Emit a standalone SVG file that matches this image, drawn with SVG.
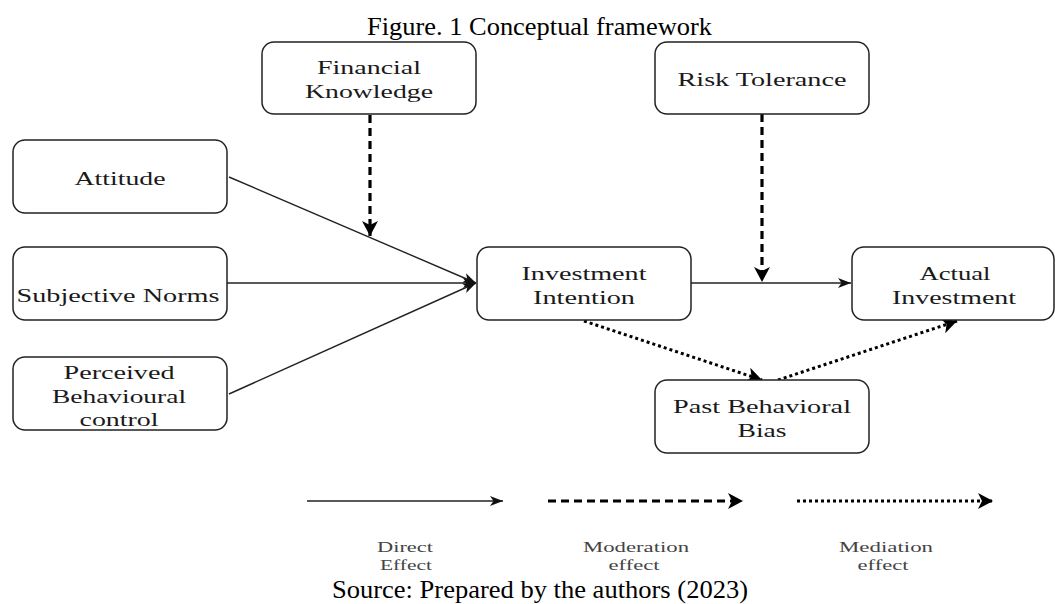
<svg xmlns="http://www.w3.org/2000/svg" width="1055" height="604" viewBox="0 0 1055 604">
<style>
.box{fill:#fff;stroke:#222;stroke-width:1.5}
.nt{font-family:"Liberation Serif","Times New Roman",serif;font-size:19px;fill:#1a1a1a;text-anchor:middle}
.lt{font-family:"Liberation Serif","Times New Roman",serif;font-size:15px;fill:#444;text-anchor:middle}
.cap{font-family:"Liberation Serif","Times New Roman",serif;font-size:26px;fill:#000}
.solid{fill:none;stroke:#222;stroke-width:1.4}
.dash{fill:none;stroke:#000;stroke-width:3.2;stroke-dasharray:8 5}
.dot{fill:none;stroke:#000;stroke-width:3;stroke-dasharray:3 3}
</style>
<defs>
<marker id="thin" markerUnits="userSpaceOnUse" markerWidth="14" markerHeight="12" refX="13" refY="5" orient="auto" overflow="visible">
<path d="M0,0 L13,5 L0,10 L3.5,5 Z" fill="#111"/>
</marker>
<marker id="big" markerUnits="userSpaceOnUse" markerWidth="18" markerHeight="18" refX="15" refY="8" orient="auto" overflow="visible">
<path d="M0,0 L15,8 L0,16 L4,8 Z" fill="#000"/>
</marker>
</defs>
<text class="cap" x="367" y="35" textLength="345" lengthAdjust="spacingAndGlyphs">Figure. 1 Conceptual framework</text>

<g id="connectors">
<line class="solid" x1="229" y1="177" x2="476" y2="283" marker-end="url(#thin)"/>
<line class="solid" x1="227" y1="283" x2="476" y2="283" marker-end="url(#thin)"/>
<line class="solid" x1="229" y1="394" x2="476" y2="283" marker-end="url(#thin)"/>
<line class="dash" x1="370" y1="115" x2="370" y2="236" marker-end="url(#big)"/>
<line class="solid" x1="691" y1="283" x2="851" y2="283" marker-end="url(#thin)"/>
<line class="dash" x1="762" y1="114" x2="762" y2="282" marker-end="url(#big)"/>
<line class="dot" x1="584" y1="321" x2="762" y2="380" marker-end="url(#big)"/>
<line class="dot" x1="778" y1="380" x2="957" y2="321" marker-end="url(#big)"/>
</g>

<g id="financial-knowledge">
<rect class="box" x="262" y="42" width="214" height="72" rx="12"/>
<text class="nt" x="369" y="74" textLength="104" lengthAdjust="spacingAndGlyphs">Financial</text>
<text class="nt" x="369" y="98" textLength="128" lengthAdjust="spacingAndGlyphs">Knowledge</text>
</g>
<g id="risk-tolerance">
<rect class="box" x="655" y="42" width="214" height="72" rx="12"/>
<text class="nt" x="762" y="86" textLength="169" lengthAdjust="spacingAndGlyphs">Risk Tolerance</text>
</g>
<g id="attitude">
<rect class="box" x="13" y="140" width="214" height="73" rx="12"/>
<text class="nt" x="120" y="185" textLength="91" lengthAdjust="spacingAndGlyphs">Attitude</text>
</g>
<g id="subjective-norms">
<rect class="box" x="13" y="247" width="214" height="73" rx="12"/>
<text class="nt" x="118" y="302" textLength="203" lengthAdjust="spacingAndGlyphs">Subjective Norms</text>
</g>
<g id="perceived-behavioural-control">
<rect class="box" x="13" y="357" width="214" height="73" rx="12"/>
<text class="nt" x="119" y="379" textLength="111" lengthAdjust="spacingAndGlyphs">Perceived</text>
<text class="nt" x="119" y="403" textLength="134" lengthAdjust="spacingAndGlyphs">Behavioural</text>
<text class="nt" x="119" y="426" textLength="79" lengthAdjust="spacingAndGlyphs">control</text>
</g>
<g id="investment-intention">
<rect class="box" x="477" y="247" width="214" height="73" rx="12"/>
<text class="nt" x="584" y="280" textLength="125" lengthAdjust="spacingAndGlyphs">Investment</text>
<text class="nt" x="584" y="304" textLength="102" lengthAdjust="spacingAndGlyphs">Intention</text>
</g>
<g id="actual-investment">
<rect class="box" x="852" y="247" width="202" height="73" rx="12"/>
<text class="nt" x="955" y="280" textLength="71" lengthAdjust="spacingAndGlyphs">Actual</text>
<text class="nt" x="954" y="304" textLength="124" lengthAdjust="spacingAndGlyphs">Investment</text>
</g>
<g id="past-behavioral-bias">
<rect class="box" x="655" y="380" width="214" height="73" rx="12"/>
<text class="nt" x="762" y="413" textLength="178" lengthAdjust="spacingAndGlyphs">Past Behavioral</text>
<text class="nt" x="762" y="437" textLength="49" lengthAdjust="spacingAndGlyphs">Bias</text>
</g>

<g id="legend">
<line class="solid" x1="307" y1="501" x2="503" y2="501" marker-end="url(#thin)"/>
<line class="dash" x1="548" y1="501" x2="743" y2="501" marker-end="url(#big)"/>
<line class="dot" x1="797" y1="501" x2="993" y2="501" marker-end="url(#big)"/>
<text class="lt" x="405" y="552" textLength="56" lengthAdjust="spacingAndGlyphs">Direct</text>
<text class="lt" x="406" y="570" textLength="52" lengthAdjust="spacingAndGlyphs">Effect</text>
<text class="lt" x="636" y="552" textLength="106" lengthAdjust="spacingAndGlyphs">Moderation</text>
<text class="lt" x="634" y="570" textLength="51" lengthAdjust="spacingAndGlyphs">effect</text>
<text class="lt" x="886" y="552" textLength="94" lengthAdjust="spacingAndGlyphs">Mediation</text>
<text class="lt" x="883" y="570" textLength="51" lengthAdjust="spacingAndGlyphs">effect</text>
</g>
<text class="cap" x="332" y="598" textLength="416" lengthAdjust="spacingAndGlyphs">Source: Prepared by the authors (2023)</text>
</svg>
